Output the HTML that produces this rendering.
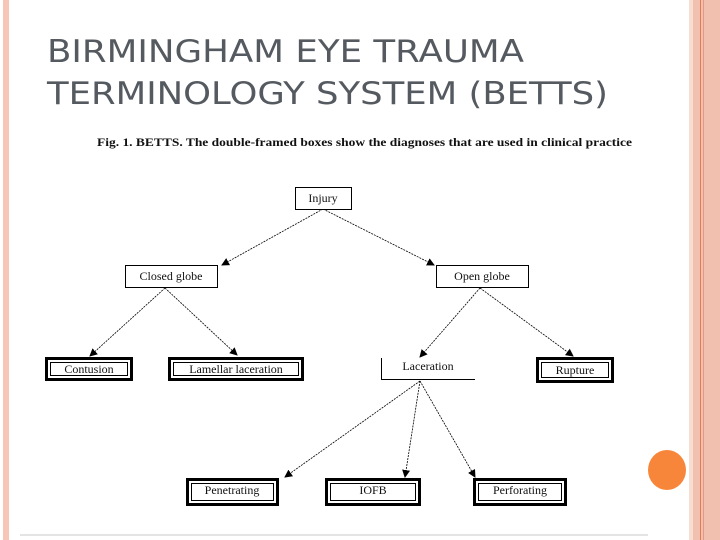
<!DOCTYPE html>
<html><head><style>
body{margin:0;width:720px;height:540px;overflow:hidden;background:#fff;position:relative;font-family:"Liberation Serif",serif}
</style></head><body>
<div style="position:absolute;left:3px;top:0;width:6px;height:540px;background:#f8c6b6"></div>
<div style="position:absolute;left:689px;top:0;width:31px;height:540px;background:#f1c0ae"></div>
<div style="position:absolute;left:689px;top:0;width:4px;height:540px;background:#f8ddd2"></div>
<div style="position:absolute;left:700px;top:0;width:1px;height:540px;background:#e07a58"></div>
<div style="position:absolute;left:703px;top:0;width:1px;height:540px;background:#e49a80"></div>
<div style="position:absolute;left:20px;top:534px;width:628px;height:2px;background:#e4e4e4"></div>
<div style="position:absolute;left:648px;top:450px;width:38px;height:40px;border-radius:50%;background:#f7863a"></div>
<svg width="720" height="540" style="position:absolute;left:0;top:0" font-family="Liberation Serif, serif">
<defs><marker id="a" markerWidth="8" markerHeight="8" refX="7" refY="4" orient="auto" markerUnits="userSpaceOnUse"><path d="M0,0L8,4L0,8z" fill="#000"/></marker></defs>
<g font-family="DejaVu Sans, Liberation Sans, sans-serif" font-size="31" fill="#555a60">
<text x="47" y="62" textLength="477" lengthAdjust="spacingAndGlyphs">BIRMINGHAM EYE TRAUMA</text>
<text x="47" y="104" textLength="561" lengthAdjust="spacingAndGlyphs">TERMINOLOGY SYSTEM (BETTS)</text>
</g>
<text x="97" y="146" font-size="12" font-weight="bold" fill="#111" textLength="535" lengthAdjust="spacingAndGlyphs">Fig. 1. BETTS. The double-framed boxes show the diagnoses that are used in clinical practice</text>
<g stroke="#000" stroke-width="0.8" stroke-dasharray="2,1" fill="none" marker-end="url(#a)">
<line x1="323" y1="209" x2="222" y2="265"/>
<line x1="323" y1="209" x2="434" y2="265"/>
<line x1="165" y1="288" x2="90" y2="356"/>
<line x1="165" y1="288" x2="237" y2="355"/>
<line x1="480" y1="288" x2="420" y2="357"/>
<line x1="480" y1="288" x2="573" y2="356"/>
<line x1="420" y1="381" x2="285" y2="477"/>
<line x1="420" y1="381" x2="405" y2="477"/>
<line x1="420" y1="381" x2="475" y2="477"/>
</g>
<g fill="#fff" stroke="#000" stroke-width="1">
<rect x="295.5" y="187.5" width="56" height="22"/>
<rect x="125.5" y="265.5" width="92" height="22"/>
<rect x="436.5" y="265.5" width="92" height="22"/>
</g>
<path d="M381.5,358V379.5H475" stroke="#000" fill="none"/>
<g fill="#fff" stroke="#000">
<rect x="46.5" y="358.5" width="85" height="21" stroke-width="3"/>
<rect x="50.5" y="362.5" width="77" height="13" stroke-width="1"/>
<rect x="169.5" y="358.5" width="133" height="21" stroke-width="3"/>
<rect x="173.5" y="362.5" width="125" height="13" stroke-width="1"/>
<rect x="537.5" y="358.5" width="75" height="23" stroke-width="3"/>
<rect x="541.5" y="362.5" width="67" height="15" stroke-width="1"/>
<rect x="187.5" y="479.5" width="90" height="25" stroke-width="3"/>
<rect x="191.5" y="483.5" width="82" height="17" stroke-width="1"/>
<rect x="326.5" y="479.5" width="93" height="25" stroke-width="3"/>
<rect x="330.5" y="483.5" width="85" height="17" stroke-width="1"/>
<rect x="474.5" y="479.5" width="91" height="25" stroke-width="3"/>
<rect x="478.5" y="483.5" width="83" height="17" stroke-width="1"/>
</g>
<g font-size="12" fill="#111" text-anchor="middle">
<text x="323" y="202">Injury</text>
<text x="171" y="280">Closed globe</text>
<text x="482" y="280">Open globe</text>
<text x="89" y="373">Contusion</text>
<text x="236" y="373">Lamellar laceration</text>
<text x="428" y="370">Laceration</text>
<text x="575" y="374">Rupture</text>
<text x="232" y="494">Penetrating</text>
<text x="373" y="494">IOFB</text>
<text x="520" y="494">Perforating</text>
</g>
</svg>
</body></html>
